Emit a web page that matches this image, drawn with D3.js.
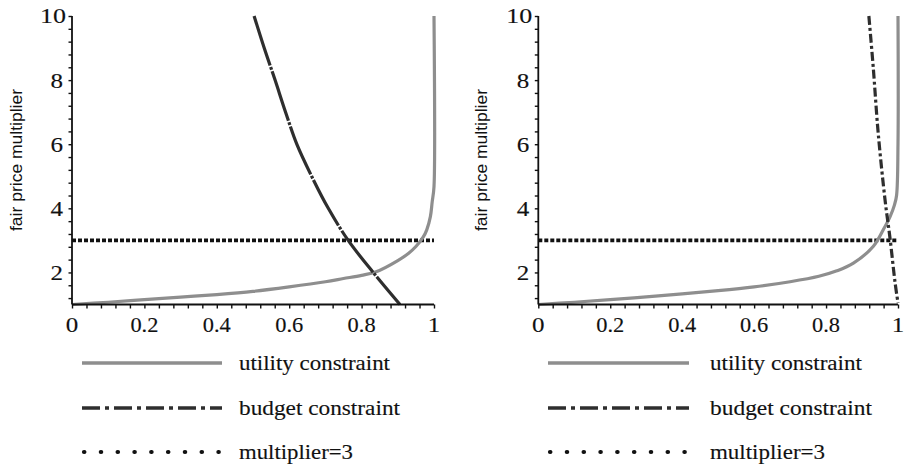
<!DOCTYPE html>
<html>
<head>
<meta charset="utf-8">
<script src="https://cdn.jsdelivr.net/npm/d3@7"></script>
<style>
  html, body { margin: 0; padding: 0; background: #fff; }
  svg { display: block; }
</style>
</head>
<body>
<svg id="chart" width="907" height="466"></svg>
<script>
// Utility constraint (share of budget -> fair price multiplier), left and right cases
const utilityLeftX  = [0, 0.1, 0.2, 0.3, 0.4, 0.5, 0.6, 0.7, 0.75, 0.8, 0.84, 0.9, 0.93, 0.95, 0.97, 0.98, 0.99, 0.995, 1.0, 1.0];
const utilityLeftY  = [1.0, 1.07, 1.15, 1.23, 1.31, 1.41, 1.55, 1.71, 1.81, 1.91, 2.02, 2.37, 2.6, 2.81, 3.1, 3.33, 3.74, 4.2, 4.68, 10];
const utilityRightX = [0, 0.1, 0.2, 0.3, 0.4, 0.5, 0.6, 0.7, 0.78, 0.83, 0.876, 0.931, 0.959, 0.978, 0.99, 0.996, 1.0, 1.0];
const utilityRightY = [1.0, 1.07, 1.15, 1.24, 1.33, 1.43, 1.55, 1.71, 1.88, 2.05, 2.29, 2.81, 3.33, 3.74, 4.1, 4.4, 6.0, 10];

// Budget constraint
const budgetLeftX  = [0.503, 0.531, 0.561, 0.590, 0.621, 0.662, 0.708, 0.763, 0.832, 0.906];
const budgetLeftY  = [10, 9, 8, 7, 6, 5, 4, 3, 2, 1];
const budgetRightX = [0.919, 0.931, 0.945, 0.964, 0.978, 0.992, 1.0];
const budgetRightY = [10, 8.42, 6.34, 4.26, 3.05, 1.67, 1.05];

// Reference multiplier
const multiplierValue = 3;

// Axis ticks
const xTickValues = [0, 0.2, 0.4, 0.6, 0.8, 1];
const xTickLabels = ["0", "0.2", "0.4", "0.6", "0.8", "1"];
const yTickValues = [2, 4, 6, 8, 10];
const yTickLabels = ["2", "4", "6", "8", "10"];

const yTitle = "fair price multiplier";
const legendLabels = ["utility constraint", "budget constraint", "multiplier=3"];

const svg = d3.select("#chart");
const serif = "'Liberation Serif', 'Times New Roman', Times, serif";
const sans = "'Liberation Sans', Arial, sans-serif";

const colUtility = "#8e8e8e";
const colBudget = "#2e2e2e";
const colDots = "#111";

// width a serif numeral label occupies
const labelWidth = s => s.length === 1 ? 12.5 : (s.length === 2 ? 26 : 28);

const panels = [
  { left: 72,    right: 434, titleX: 17,  legendLine: [82, 222],  legendText: 239,
    ux: utilityLeftX, uy: utilityLeftY, bx: budgetLeftX, by: budgetLeftY,
    budgetDash: "52,1.6,3,1.6", legendWidths: [151, 161, 114] },
  { left: 538.3, right: 898, titleX: 482, legendLine: [548, 689], legendText: 710,
    ux: utilityRightX, uy: utilityRightY, bx: budgetRightX, by: budgetRightY,
    budgetDash: "9,3,3,3", legendWidths: [152, 162, 115] }
];

const yTop = 16, yBottom = 304.5;

function serifText(sel) {
  return sel.attr("font-family", serif).attr("font-size", 22).attr("fill", "#111")
    .attr("stroke", "#111").attr("stroke-width", 0.15)
    .attr("lengthAdjust", "spacingAndGlyphs");
}

panels.forEach(p => {
  const g = svg.append("g");
  const x = d3.scaleLinear().domain([0, 1]).range([p.left, p.right]);
  const y = d3.scaleLinear().domain([1, 10]).range([yBottom, yTop]);

  const line = d3.line()
    .x(d => x(d[0])).y(d => y(d[1]))
    .curve(d3.curveCatmullRom.alpha(0.5));

  // multiplier = 3 reference line
  g.append("path")
    .attr("d", d3.line().x(d => x(d[0])).y(d => y(d[1]))([[0, multiplierValue], [1, multiplierValue]]))
    .attr("fill", "none").attr("stroke", colDots)
    .attr("stroke-width", 3.6).attr("stroke-dasharray", "4,2");

  // utility constraint
  g.append("path")
    .attr("d", line(p.ux.map((v, i) => [v, p.uy[i]])))
    .attr("fill", "none").attr("stroke", colUtility)
    .attr("stroke-width", 3.2).attr("stroke-linejoin", "round");

  // budget constraint
  g.append("path")
    .attr("d", line(p.bx.map((v, i) => [v, p.by[i]])))
    .attr("fill", "none").attr("stroke", colBudget)
    .attr("stroke-width", 3.2).attr("stroke-dasharray", p.budgetDash);

  // x axis
  const xAxis = d3.axisBottom(x)
    .tickValues(d3.range(0, 1.0001, 0.04))
    .tickSize(4).tickFormat("");
  const gx = g.append("g").attr("transform", `translate(0,${yBottom})`).call(xAxis);
  gx.select(".domain").attr("stroke", "#111").attr("stroke-width", 1.8).attr("d", `M${p.left},0H${p.right}`);
  gx.selectAll(".tick line").attr("stroke", "#111").attr("stroke-width", 1.4);

  g.selectAll(".xlab").data(xTickValues).join("text")
    .attr("x", d => x(d)).attr("y", 332)
    .attr("text-anchor", "middle")
    .call(serifText)
    .attr("textLength", (d, i) => labelWidth(xTickLabels[i]))
    .text((d, i) => xTickLabels[i]);

  // y axis
  const yAxis = d3.axisLeft(y)
    .tickValues(d3.range(1.2, 10.0001, 0.4))
    .tickSize(3.5).tickFormat("");
  const gy = g.append("g").attr("transform", `translate(${p.left},0)`).call(yAxis);
  gy.select(".domain").attr("stroke", "#111").attr("stroke-width", 1.8).attr("d", `M0,${yTop}V${yBottom}`);
  gy.selectAll(".tick line").attr("stroke", "#111").attr("stroke-width", 1.4);

  g.selectAll(".ylab").data(yTickValues).join("text")
    .attr("x", (d, i) => p.left - 9 - (yTickLabels[i].length === 2 ? -3 : 0))
    .attr("y", d => y(d)).attr("dy", "0.34em")
    .attr("text-anchor", "end")
    .call(serifText)
    .attr("textLength", (d, i) => labelWidth(yTickLabels[i]))
    .text((d, i) => yTickLabels[i]);

  // y title
  g.append("text")
    .attr("transform", `translate(${p.titleX + 5},160) rotate(-90)`)
    .attr("text-anchor", "middle")
    .attr("font-family", sans).attr("font-size", 16).attr("fill", "#111")
    .attr("textLength", 142).attr("lengthAdjust", "spacingAndGlyphs")
    .text(yTitle);

  // legend
  const legendY = [363, 408, 452];
  const legendStyles = [
    { stroke: colUtility, width: 3.4, dash: null, cap: "butt" },
    { stroke: colBudget, width: 3.4, dash: "18,5,4,5", cap: "butt" },
    { stroke: colDots, width: 4.2, dash: "0.4,16.4", cap: "round" }
  ];
  legendLabels.forEach((lab, i) => {
    const st = legendStyles[i];
    g.append("line")
      .attr("x1", p.legendLine[0] + (st.cap === "round" ? 2 : 0)).attr("x2", p.legendLine[1])
      .attr("y1", legendY[i]).attr("y2", legendY[i])
      .attr("stroke", st.stroke)
      .attr("stroke-width", st.width)
      .attr("stroke-linecap", st.cap)
      .attr("stroke-dasharray", st.dash);
    g.append("text")
      .attr("x", p.legendText).attr("y", legendY[i] + 7)
      .call(serifText)
      .attr("textLength", p.legendWidths[i])
      .text(lab);
  });
});
</script>
</body>
</html>
